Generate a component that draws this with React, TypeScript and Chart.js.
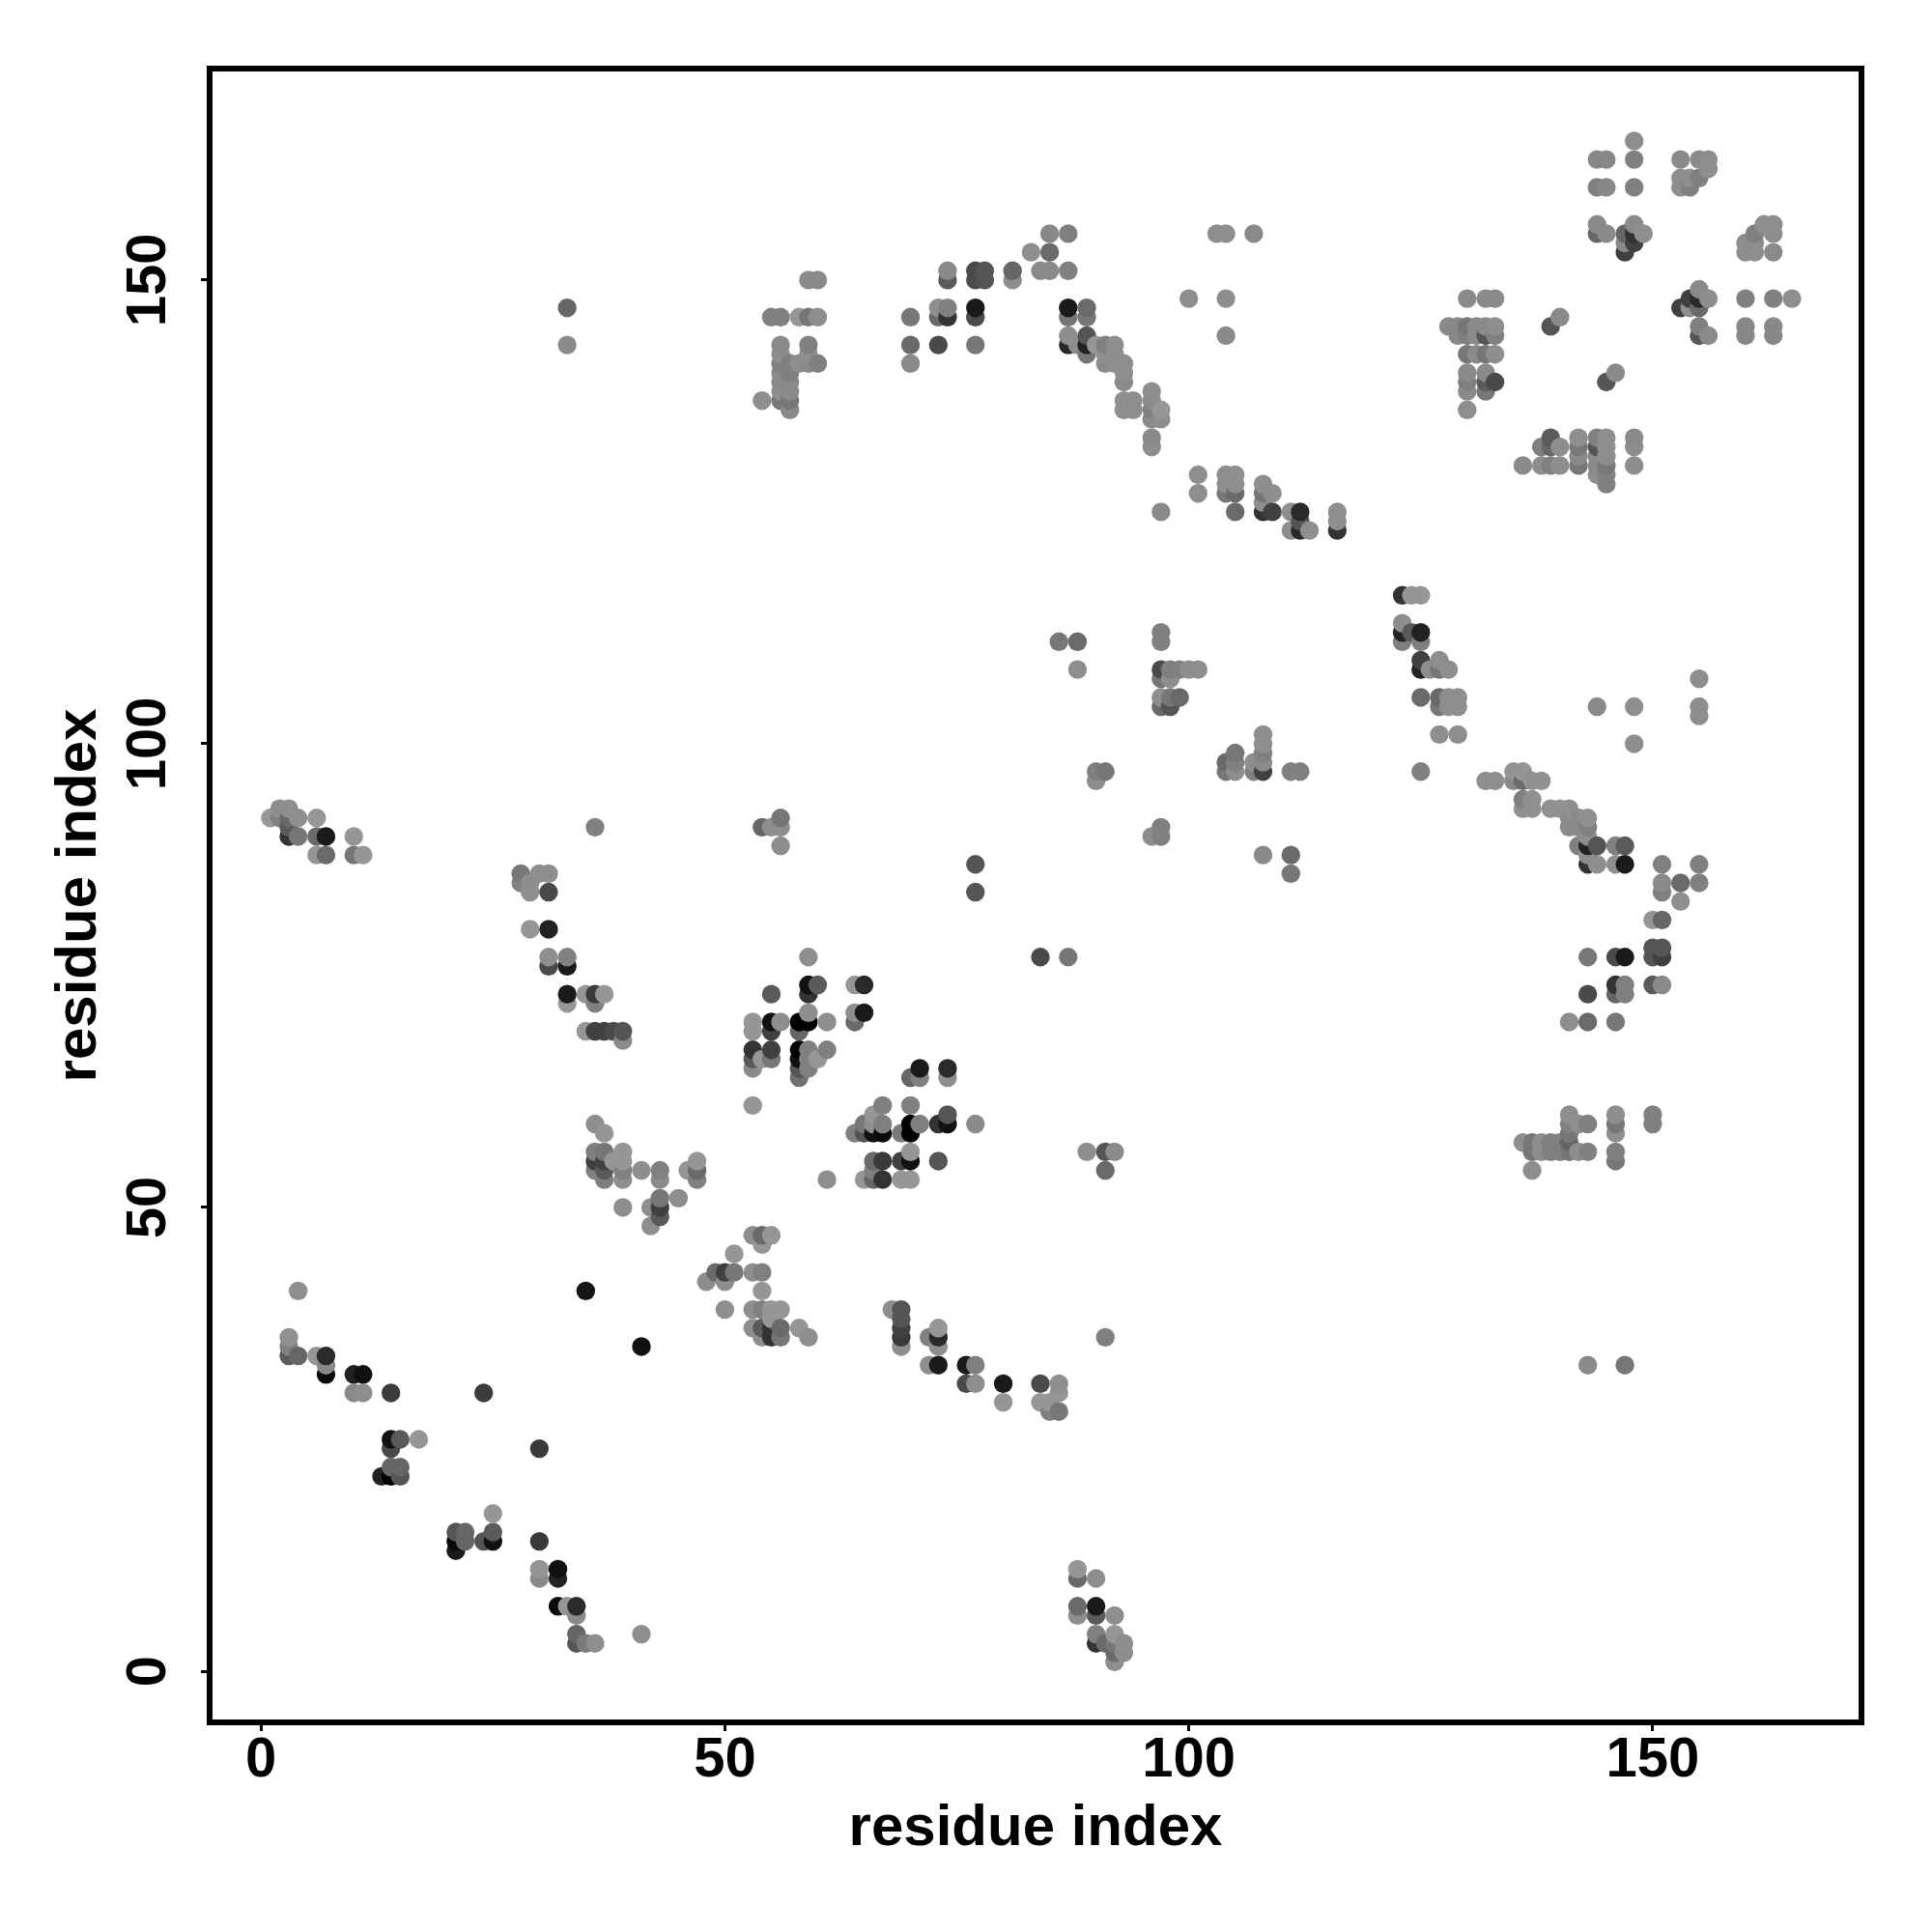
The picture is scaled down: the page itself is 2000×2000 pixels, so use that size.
import React, { useEffect, useRef } from "react";
import { Chart, registerables } from "chart.js";

Chart.register(...registerables);

const axisTitle = "residue index";
const tickStep = 50;

// [residue x, residue y, grey level]
const lowerLeft = [
[4,41,0x8e],[3,36,0x90],[3,35,0x80],[3,34,0x5a],[4,34,0x66],[6,34,0x96],[7,34,0x2a],[7,33,0x88],[7,32,0x0a],
[10,32,0x22],[11,32,0x11],[10,30,0x8a],[11,30,0x8e],[14,30,0x3c],[24,30,0x3c],[41,35,0x11],[35,41,0x15],
[14,25,0x11],[15,25,0x5a],[17,25,0x96],[14,24,0x4a],[30,24,0x3a],[14,22,0x66],[15,22,0x66],[15,21,0x55],[14,21,0x00],[13,21,0x22],
[25,17,0x96],[21,15,0x55],[22,15,0x66],[25,15,0x5a],[22,14,0x66],[21,14,0x0a],[21,13,0x1a],[24,14,0x55],[25,14,0x11],
[30,14,0x3a],[30,11,0x94],[30,10,0x8a],[32,11,0x11],[32,10,0x22],[32,7,0x0a],[33,7,0x96],[34,7,0x2a],[34,6,0x8a],
[34,4,0x66],[34,3,0x55],[35,3,0x7a],[36,3,0x8e],[41,4,0x8e],
];

const topLeftArm = [
[1,92,0x96],[2,93,0x8e],[3,93,0x8e],[2,92,0x80],[3,92,0x6a],[4,92,0x8e],[6,92,0x96],[3,91,0x5a],[3,90,0x33],[4,90,0x77],
[6,90,0x6a],[7,90,0x1a],[10,90,0x96],[6,88,0x96],[7,88,0x6a],[10,88,0x77],[11,88,0x96],[36,91,0x80],
[28,86,0x77],[30,86,0x8e],[31,86,0x8e],[28,85,0x80],[29,85,0x8e],[29,84,0x8e],[31,84,0x4a],
[29,80,0x96],[31,80,0x22],[31,77,0x8e],[33,77,0x80],[31,76,0x4a],[33,76,0x1a],
[33,73,0x1a],[35,73,0x96],[36,73,0x3a],[37,73,0x96],[33,72,0x96],[36,72,0x80],
[35,69,0x96],[36,69,0x40],[37,69,0x40],[38,69,0x4a],[39,69,0x55],[39,68,0x8a],
];

const centralCluster = [
[59,77,0x8e],[59,74,0x11],[60,74,0x5a],[59,73,0x33],[55,73,0x5a],[64,74,0x96],[65,74,0x2a],[64,71,0x8e],[65,71,0x1a],[64,70,0x6a],
[53,70,0x96],[53,69,0x96],[55,70,0x11],[56,70,0x8e],[55,69,0x40],[58,70,0x00],[59,70,0x00],[59,71,0x8e],[58,69,0x66],[61,70,0x8e],
[53,67,0x33],[53,66,0x5a],[53,65,0x8a],[55,67,0x40],[54,66,0x96],[55,66,0x77],[58,67,0x00],[58,66,0x11],[59,67,0x80],[59,66,0x80],
[58,65,0x55],[59,65,0x80],[58,64,0x70],[60,66,0x96],[61,67,0x80],[53,61,0x96],
[71,65,0x1a],[70,64,0x66],[71,64,0x80],[74,65,0x2a],[74,64,0x8e],[67,61,0x80],[70,61,0x80],[66,60,0x96],[74,60,0x55],
[65,59,0x77],[67,59,0x80],[66,59,0x8e],[70,59,0x00],[71,59,0x80],[73,59,0x33],[74,59,0x11],[77,59,0x8a],
[64,58,0x80],[65,58,0x55],[66,58,0x11],[67,58,0x0a],[69,58,0x7a],[70,58,0x00],[70,56,0x96],
[66,55,0x6a],[67,55,0x3a],[69,55,0x40],[70,55,0x11],[73,55,0x55],[65,53,0x96],[66,53,0x66],[67,53,0x33],[69,53,0x96],[70,53,0x96],[66,54,0x80],[61,53,0x8e],
[36,59,0x8e],[37,58,0x96],[36,56,0x80],[37,56,0x77],[39,56,0x96],[36,55,0x40],[37,55,0x40],[38,55,0x96],[39,55,0x96],
[36,54,0x80],[37,54,0x5a],[39,54,0x80],[37,53,0x80],[39,53,0x8e],[41,54,0x8e],[43,54,0x80],[43,53,0x8a],[46,54,0x96],[47,55,0x96],[47,54,0x6a],[47,53,0x80],
[39,50,0x8e],[42,50,0x8e],[43,51,0x77],[43,50,0x40],[43,49,0x5a],[45,51,0x8e],[42,48,0x8e],
];

const lowerMiddle = [
[53,47,0x8e],[54,47,0x6a],[55,47,0x96],[54,46,0x96],[51,45,0x96],[49,43,0x6a],[50,43,0x40],[51,43,0x77],[53,43,0x8e],[54,43,0x80],
[48,42,0x8e],[50,42,0x8e],[54,41,0x96],[50,39,0x8e],[53,39,0x8e],[54,39,0x80],[55,39,0x96],[56,39,0x96],[55,38,0x96],
[53,37,0x8e],[54,37,0x5a],[55,37,0x33],[56,37,0x6a],[58,37,0x96],[54,36,0x8e],[55,36,0x33],[56,36,0x77],[59,36,0x8e],
[68,39,0x8e],[69,39,0x55],[69,38,0x55],[69,37,0x40],[69,36,0x3a],[69,35,0x8e],[73,37,0x96],[72,36,0x80],[73,36,0x2a],[73,35,0x8e],
[72,33,0x8e],[73,33,0x1a],[76,33,0x1a],[77,33,0x80],[76,31,0x4a],[77,31,0x8e],[80,31,0x1a],[80,29,0x96],[84,31,0x4a],[86,31,0x8e],[86,30,0x96],
[84,29,0x96],[85,29,0x96],[85,28,0x80],[86,28,0x77],[91,36,0x80],
[88,11,0x96],[88,10,0x6a],[90,10,0x8e],[88,7,0x6a],[88,6,0x8e],[90,7,0x1a],[90,6,0x5a],[92,6,0x8e],
[90,4,0x80],[90,3,0x33],[91,3,0x6a],[92,4,0x96],[93,3,0x8e],[92,3,0x77],[93,2,0x8e],[92,2,0x6a],[92,1,0x8e],
];

const scattered = [
[33,147,0x66],[33,143,0x8a],[77,87,0x55],[77,84,0x55],[84,77,0x4a],[87,77,0x77],[89,56,0x8e],[91,56,0x55],[92,56,0x8a],[91,54,0x6a],
[143,33,0x8a],[147,33,0x77],[54,91,0x66],[55,91,0x8e],[56,92,0x77],[56,91,0x8e],[56,89,0x8e],
];

const upperArc = [
[85,155,0x88],[87,155,0x80],[83,153,0x8e],[85,153,0x6a],[81,151,0x66],[81,150,0x8e],[84,151,0x8a],[85,151,0x8a],[87,151,0x80],
[74,151,0x8a],[74,150,0x5a],[77,151,0x4a],[78,151,0x55],[77,150,0x4a],[78,150,0x55],[77,147,0x1a],[77,146,0x4a],
[73,147,0x8e],[74,147,0x80],[73,146,0x6a],[74,146,0x33],[70,146,0x77],[70,143,0x6a],[73,143,0x4a],[77,143,0x77],[70,141,0x8a],
[59,150,0x8a],[60,150,0x8a],[55,146,0x80],[56,146,0x80],[58,146,0x96],[59,146,0x77],[60,146,0x8e],
[56,143,0x8a],[59,143,0x80],[56,142,0x8e],[59,142,0x8e],[56,141,0x80],[57,141,0x80],[58,141,0x8e],[59,141,0x8a],[60,141,0x80],
[56,140,0x8a],[57,140,0x80],[56,139,0x8a],[57,139,0x8a],[56,138,0x8e],[57,138,0x8a],[56,137,0x77],[57,137,0x77],[54,137,0x8e],[57,136,0x8a],
[87,147,0x1a],[87,146,0x77],[89,147,0x6a],[89,146,0x77],[87,144,0x8e],[87,143,0x2a],[88,143,0x8e],[89,144,0x55],[89,143,0x22],[89,142,0x77],
[90,143,0x96],[91,143,0x80],[92,143,0x8e],[91,142,0x8e],[92,142,0x8e],[91,141,0x8a],[92,141,0x8e],[93,141,0x8e],[93,140,0x8e],[93,139,0x8a],
[93,137,0x8e],[94,137,0x8e],[93,136,0x8e],[94,136,0x8e],[96,138,0x8e],[96,137,0x8a],[96,136,0x80],[96,135,0x8a],[97,136,0x96],[97,135,0x8e],[96,133,0x8a],[96,132,0x8e],
[100,148,0x8e],[101,129,0x8e],[101,127,0x8e],[97,125,0x8a],
[103,155,0x8e],[104,155,0x8e],[107,155,0x8a],[104,148,0x8e],[104,144,0x8a],
[104,129,0x8e],[105,129,0x8e],[104,128,0x8e],[105,128,0x8e],[104,127,0x77],[105,127,0x6a],[105,125,0x6a],
[108,128,0x8e],[108,127,0x77],[109,127,0x8e],[108,126,0x8e],[108,125,0x33],[109,125,0x40],
[111,125,0x8e],[112,125,0x2a],[112,124,0x55],[111,123,0x8e],[112,123,0x2a],[113,123,0x8e],[116,125,0x8e],[116,124,0x8e],[116,123,0x33],
];

const middleBand = [
[86,111,0x77],[88,111,0x6a],[88,108,0x8e],[97,112,0x80],[97,111,0x80],[97,108,0x4a],[97,107,0x77],[98,108,0x80],[98,107,0x8e],[99,108,0x80],[100,108,0x8e],[101,108,0x8e],
[97,105,0x8e],[97,104,0x6a],[98,105,0x77],[98,104,0x55],[99,105,0x6a],
[90,97,0x80],[91,97,0x77],[90,96,0x8e],[96,90,0x8e],[97,91,0x80],[97,90,0x80],[108,88,0x8a],[111,88,0x6a],[111,86,0x77],
[104,98,0x6a],[104,97,0x77],[105,99,0x77],[105,98,0x80],[105,97,0x8e],[108,101,0x8e],[108,100,0x8e],[108,99,0x80],[108,98,0x8a],[108,97,0x40],[107,98,0x8e],[107,97,0x80],[111,97,0x80],[112,97,0x80],
[123,116,0x33],[124,116,0x96],[125,116,0x96],[123,113,0x8e],[123,112,0x22],[124,112,0x5a],[125,112,0x22],[123,111,0x80],[125,111,0x80],
[125,109,0x40],[125,108,0x22],[127,109,0x8e],[126,108,0x8e],[127,108,0x77],[128,108,0x8e],
[125,105,0x6a],[127,105,0x6a],[127,104,0x77],[128,105,0x8e],[129,105,0x8e],[128,104,0x8e],[129,104,0x8e],[127,101,0x8e],[129,101,0x8e],[125,97,0x80],
[144,104,0x8a],[148,104,0x8e],[148,100,0x8e],[155,107,0x8e],[155,104,0x8e],[155,103,0x8e],
];

const rightDiagonal = [
[132,96,0x8e],[133,96,0x8e],[135,97,0x94],[136,97,0x94],[135,96,0x88],[136,96,0x6a],[137,96,0x90],[138,96,0x90],
[136,94,0x80],[137,94,0x90],[136,93,0x90],[137,93,0x90],[139,93,0x90],[140,93,0x90],[141,93,0x90],[141,92,0x8a],[142,92,0x8a],[143,92,0x90],
[141,91,0x8a],[142,91,0x8a],[143,91,0x80],[143,90,0x8e],[142,89,0x80],[143,89,0x22],[144,89,0x55],[146,89,0x80],[147,89,0x5a],
[143,88,0x8e],[143,87,0x33],[144,87,0x8e],[146,87,0x8e],[147,87,0x1a],[151,87,0x80],[155,87,0x80],[151,85,0x8a],[151,84,0x80],[153,85,0x6a],[155,85,0x80],[153,83,0x8e],
[150,81,0x96],[151,81,0x66],[150,78,0x55],[151,78,0x55],[150,77,0x55],[151,77,0x40],[143,77,0x77],[146,77,0x4a],[147,77,0x1a],
[146,74,0x33],[147,74,0x80],[146,73,0x66],[147,73,0x80],[150,74,0x5a],[151,74,0x8a],[143,73,0x4a],[141,70,0x8e],[143,70,0x6a],[146,70,0x77],
[141,60,0x8e],[141,59,0x80],[142,59,0x8e],[143,59,0x80],[141,58,0x77],[136,57,0x8e],[137,57,0x77],[138,57,0x8e],[139,57,0x80],[140,57,0x80],[141,57,0x66],
[137,56,0x77],[138,56,0x8e],[139,56,0x80],[140,56,0x80],[141,56,0x77],[142,56,0x8e],[143,56,0x80],[137,54,0x8e],
[146,60,0x8e],[146,59,0x77],[146,58,0x8e],[146,56,0x80],[146,55,0x77],[150,60,0x80],[150,59,0x80],
];

const upperRight = [
[148,165,0x8e],[144,163,0x88],[145,163,0x88],[148,163,0x80],[153,163,0x8a],[155,163,0x8a],[156,163,0x8e],[156,162,0x8e],
[153,161,0x8e],[154,161,0x8e],[155,161,0x80],[153,160,0x8e],[154,160,0x80],[144,160,0x80],[145,160,0x88],[148,160,0x80],
[144,156,0x8a],[144,155,0x66],[145,155,0x8a],[147,155,0x66],[148,156,0x8a],[148,155,0x33],[149,155,0x8e],[147,154,0x8a],[148,154,0x40],[147,153,0x40],
[162,156,0x8e],[163,156,0x8e],[163,155,0x8e],[161,155,0x80],[160,154,0x8e],[161,154,0x8e],[160,153,0x8e],[161,153,0x8e],[163,153,0x8a],
[155,149,0x8a],[156,148,0x8e],[154,148,0x40],[155,148,0x2a],[153,147,0x40],[154,147,0x8e],[155,147,0x6a],[155,145,0x80],[155,144,0x55],[156,144,0x8a],
[160,148,0x80],[163,148,0x80],[165,148,0x8e],[160,145,0x88],[160,144,0x88],[163,145,0x88],[163,144,0x88],
[140,146,0x8a],[139,145,0x55],[146,140,0x8a],[145,139,0x55],
[130,148,0x8a],[132,148,0x8a],[133,148,0x8a],[128,145,0x88],[129,145,0x88],[130,145,0x77],[131,145,0x8a],[132,145,0x8a],[133,145,0x8e],
[129,144,0x88],[130,144,0x80],[131,144,0x8a],[132,144,0x55],[133,144,0x80],[130,142,0x77],[131,142,0x8a],[132,142,0x77],[133,142,0x8e],
[130,140,0x8a],[132,140,0x8a],[130,139,0x80],[132,139,0x5a],[133,139,0x4a],[130,138,0x8a],[132,138,0x77],[130,136,0x8e],
[139,133,0x5a],[138,132,0x80],[139,132,0x66],[140,132,0x8e],[136,130,0x8a],[138,130,0x8e],[139,130,0x80],[140,130,0x8e],
[142,133,0x8e],[142,132,0x77],[142,131,0x8a],[142,130,0x77],[144,133,0x80],[145,133,0x8e],[144,132,0x55],[145,132,0x8e],[144,131,0x8a],[145,131,0x8e],
[144,130,0x8a],[145,130,0x77],[144,129,0x8e],[145,129,0x80],[145,128,0x80],[148,133,0x8a],[148,132,0x8e],[148,130,0x8e],
];

const contacts = [
  ...lowerLeft, ...topLeftArm, ...centralCluster, ...lowerMiddle, ...scattered,
  ...upperArc, ...middleBand, ...rightDiagonal, ...upperRight,
].sort((a, b) => a[0] - b[0] || a[1] - b[1]);

const FONT = "'Liberation Sans', Arial, sans-serif";

const framePlugin = {
  id: "frame",
  afterDraw(chart: any) {
    const { ctx, chartArea: a } = chart;
    ctx.save();
    ctx.strokeStyle = "#000";
    ctx.lineWidth = 6;
    ctx.lineJoin = "miter";
    ctx.strokeRect(a.left, a.top, a.right - a.left, a.bottom - a.top);
    ctx.restore();
  },
};

export default function App() {
  const ref = useRef<HTMLCanvasElement | null>(null);
  useEffect(() => {
    const tickFont = { family: FONT, size: 58, weight: "bold" as const };
    const titleFont = { family: FONT, size: 60, weight: "bold" as const, lineHeight: 1 };
    const chart = new Chart(ref.current as HTMLCanvasElement, {
      type: "scatter",
      data: {
        datasets: [
          {
            data: contacts.map((c) => ({ x: c[0], y: c[1] })),
            pointBackgroundColor: contacts.map((c) => `rgb(${c[2]},${c[2]},${c[2]})`),
            pointRadius: 9.7,
            pointBorderWidth: 0,
            pointHoverRadius: 9.7,
          },
        ],
      },
      options: {
        animation: false,
        responsive: false,
        events: [],
        layout: { padding: { left: 0, top: 71, right: 73, bottom: 0 } },
        plugins: { legend: { display: false }, tooltip: { enabled: false } },
        scales: {
          x: {
            type: "linear",
            min: -5.54,
            max: 172.5,
            afterFit: (s: any) => { s.height = 217; },
            afterBuildTicks: (s: any) => { s.ticks = [0, 1, 2, 3].map((i) => ({ value: i * tickStep })); },
            grid: { drawOnChartArea: false, drawTicks: true, tickLength: 9, tickWidth: 3, tickColor: "#000" },
            border: { display: false },
            ticks: { font: tickFont, color: "#000", padding: -4, maxRotation: 0, minRotation: 0, autoSkip: false },
            title: { display: true, text: axisTitle, font: titleFont, color: "#000", padding: { top: 0, bottom: 77 } },
          },
          y: {
            type: "linear",
            min: -5.52,
            max: 172.8,
            afterFit: (s: any) => { s.width = 217; },
            afterBuildTicks: (s: any) => { s.ticks = [0, 1, 2, 3].map((i) => ({ value: i * tickStep })); },
            grid: { drawOnChartArea: false, drawTicks: true, tickLength: 9, tickWidth: 3, tickColor: "#000" },
            border: { display: false },
            ticks: { font: tickFont, color: "#000", padding: 5, minRotation: 90, maxRotation: 90, crossAlign: "center", autoSkip: false },
            title: { display: true, text: axisTitle, font: titleFont, color: "#000", padding: { top: 52, bottom: 0 } },
          },
        },
      },
      plugins: [framePlugin],
    } as any);
    return () => chart.destroy();
  }, []);
  return (
    <div style={{ position: "absolute", left: 0, top: 0, width: 2000, height: 2000, background: "#fff" }}>
      <canvas ref={ref} width={2000} height={2000} style={{ display: "block" }} />
    </div>
  );
}
